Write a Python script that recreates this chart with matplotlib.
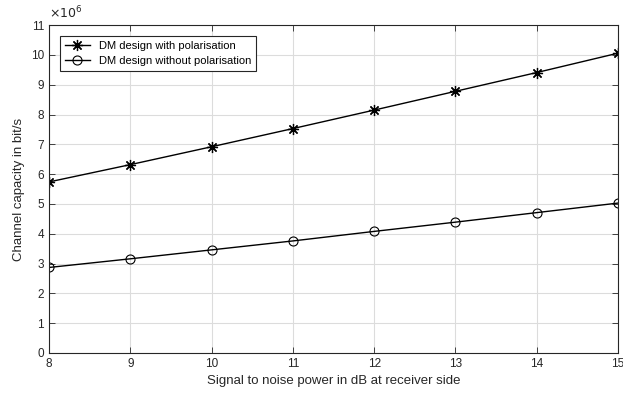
import numpy as np
import matplotlib.pyplot as plt
from matplotlib.ticker import FuncFormatter

plt.rcParams['font.family'] = ['Liberation Sans', 'DejaVu Sans']

snr_db = [8, 9, 10, 11, 12, 13, 14, 15]
cap_with_pol = [5.74e6, 6.32e6, 6.92e6, 7.53e6, 8.15e6, 8.78e6, 9.41e6, 10.06e6]
cap_without_pol = [2.87e6, 3.16e6, 3.46e6, 3.76e6, 4.08e6, 4.39e6, 4.71e6, 5.03e6]

fig = plt.figure(figsize=(6.23, 3.93), dpi=100)
ax = fig.add_axes([0.0787, 0.1018, 0.9133, 0.8342])

ax.plot(snr_db, cap_with_pol, color='black', lw=1.0, marker=(8, 2, 0), ms=8,
        mew=0.9, label='DM design with polarisation')
ax.plot(snr_db, cap_without_pol, color='black', lw=1.0, marker='o', ms=6.5,
        mfc='none', mew=0.8, label='DM design without polarisation')

ax.set_xlim(8, 15)
ax.set_ylim(0, 11e6)
ax.set_xticks(snr_db)
ax.set_yticks(np.arange(0, 12e6, 1e6))
ax.yaxis.set_major_formatter(FuncFormatter(lambda v, p: f'{v / 1e6:g}'))
ax.text(0.0, 1.012, r'$\times10^{6}$', transform=ax.transAxes, fontsize=9,
        color='#262626', ha='left', va='bottom')

ax.grid(True, color='#dcdcdc', lw=0.8)
ax.set_axisbelow(True)
ax.tick_params(direction='in', top=True, right=True, labelsize=8.5,
               colors='#262626', length=4, width=0.6)
for s in ax.spines.values():
    s.set_color('#262626')
    s.set_linewidth(0.8)

ax.set_xlabel('Signal to noise power in dB at receiver side', fontsize=9.5, color='#262626')
ax.set_ylabel('Channel capacity in bit/s', fontsize=9.5, color='#262626')

leg = ax.legend(loc='upper left', fontsize=8, fancybox=False, framealpha=1,
                edgecolor='#262626', handlelength=2.2, borderpad=0.45,
                labelspacing=0.45, bbox_to_anchor=(0.01, 0.985))
leg.get_frame().set_linewidth(0.8)

fig.savefig('out.png', dpi=100)
